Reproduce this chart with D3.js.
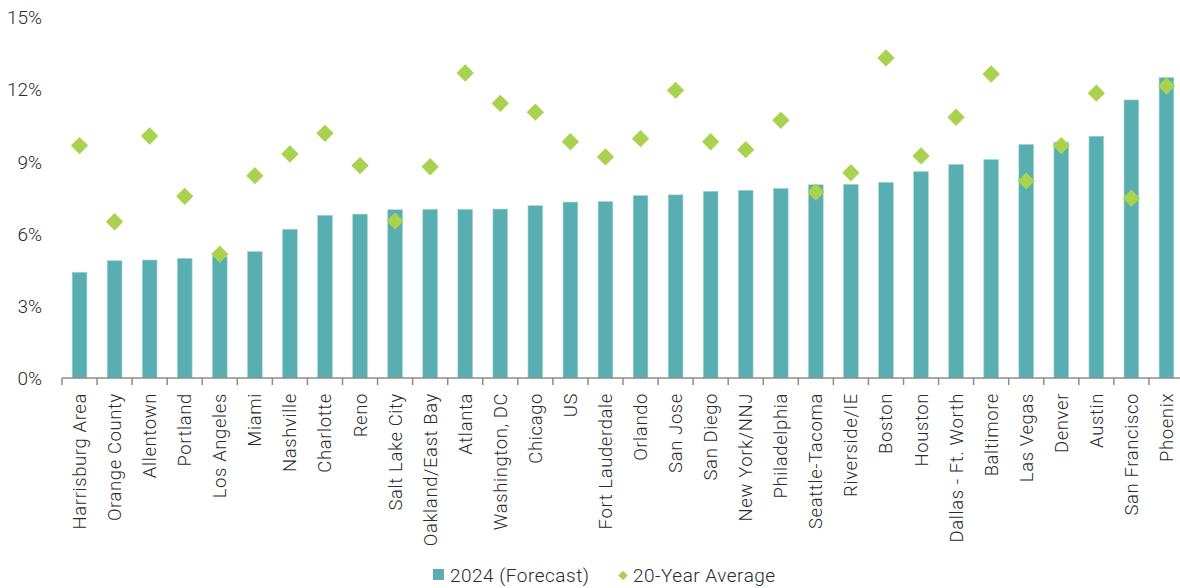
<!DOCTYPE html>
<html>
<head>
<meta charset="utf-8">
<script src="https://cdn.jsdelivr.net/npm/d3@7"></script>
<style>
  body { margin: 0; background: #fff; }
  svg text { font-family: Roboto, "Liberation Sans", Arial, sans-serif; font-weight: 300; fill: #2b2b2b; }
</style>
</head>
<body>
<div id="chart"></div>
<script>
const cities = ["Harrisburg Area", "Orange County", "Allentown", "Portland", "Los Angeles", "Miami",
  "Nashville", "Charlotte", "Reno", "Salt Lake City", "Oakland/East Bay", "Atlanta", "Washington, DC",
  "Chicago", "US", "Fort Lauderdale", "Orlando", "San Jose", "San Diego", "New York/NNJ", "Philadelphia",
  "Seattle-Tacoma", "Riverside/IE", "Boston", "Houston", "Dallas - Ft. Worth", "Baltimore", "Las Vegas",
  "Denver", "Austin", "San Francisco", "Phoenix"];

const forecast2024 = [4.40, 4.88, 4.91, 4.98, 5.05, 5.26, 6.19, 6.77, 6.82, 7.00, 7.02, 7.02, 7.03,
  7.17, 7.32, 7.34, 7.59, 7.62, 7.77, 7.81, 7.89, 8.04, 8.06, 8.14, 8.59, 8.89, 9.09, 9.72,
  9.81, 10.06, 11.57, 12.50];

const avg20yr = [9.67, 6.50, 10.07, 7.56, 5.15, 8.42, 9.32, 10.18, 8.84, 6.53, 8.79, 12.69, 11.43,
  11.06, 9.83, 9.20, 9.96, 11.97, 9.83, 9.50, 10.72, 7.74, 8.54, 13.32, 9.24, 10.85, 12.65, 8.20,
  9.67, 11.85, 7.48, 12.15];

const yTicks = [0, 3, 6, 9, 12, 15];

const width = 1180, height = 588;
const barColor = "#58aeb0", dotColor = "#a9d34f";

const svg = d3.select("#chart").append("svg")
  .attr("width", width)
  .attr("height", height);

const x = d3.scaleBand()
  .domain(cities)
  .range([62, 1184])
  .paddingInner(0.58)
  .paddingOuter(0.29);

const y = d3.scaleLinear()
  .domain([0, 15])
  .range([378, 17.5]);

// y labels (no axis line)
svg.append("g")
  .selectAll("text")
  .data(yTicks)
  .enter()
  .append("text")
  .attr("x", 42)
  .attr("y", d => y(d))
  .attr("dy", "0.36em")
  .attr("text-anchor", "end")
  .style("font-size", "19px")
  .text(d => d + "%");

// bars
svg.append("g")
  .selectAll("rect")
  .data(cities)
  .enter()
  .append("rect")
  .attr("x", d => x(d))
  .attr("y", (d, i) => y(forecast2024[i]))
  .attr("width", x.bandwidth())
  .attr("height", (d, i) => y(0) - y(forecast2024[i]))
  .attr("fill", barColor)
  .attr("stroke", "#a6d6d6")
  .attr("stroke-width", 0.6);

// x axis
const step = x.step();
const xAxis = svg.append("g").attr("class", "x axis");
xAxis.append("line")
  .attr("x1", 62).attr("x2", 1184)
  .attr("y1", y(0)).attr("y2", y(0))
  .attr("stroke", "#8c8c8c").attr("stroke-width", 1.5);

xAxis.selectAll("line.tick")
  .data(d3.range(cities.length + 1))
  .enter()
  .append("line")
  .attr("class", "tick")
  .attr("x1", i => 62 + i * step)
  .attr("x2", i => 62 + i * step)
  .attr("y1", y(0))
  .attr("y2", y(0) + 7)
  .attr("stroke", "#8c8c8c")
  .attr("stroke-width", 1.5);

xAxis.selectAll("text")
  .data(cities)
  .enter()
  .append("text")
  .attr("transform", d => "translate(" + (x(d) + x.bandwidth() / 2 + 6.5) + "," + 393 + ") rotate(-90)")
  .attr("text-anchor", "end")
  .style("font-size", "18.5px")
  .style("letter-spacing", "0.6px")
  .text(d => d);

// 20-year average diamonds
const diamond = d3.symbol().type(d3.symbolSquare).size(150);
svg.append("g")
  .selectAll("path")
  .data(cities)
  .enter()
  .append("path")
  .attr("d", diamond)
  .attr("transform", (d, i) => "translate(" + (x(d) + x.bandwidth() / 2) + "," + y(avg20yr[i]) + ") rotate(45)")
  .attr("fill", dotColor);

// legend
const legend = svg.append("g");
legend.append("rect")
  .attr("x", 433).attr("y", 569)
  .attr("width", 11).attr("height", 11)
  .attr("fill", barColor);
legend.append("text")
  .attr("x", 450).attr("y", 582)
  .style("font-size", "19px")
  .style("letter-spacing", "0.5px")
  .text("2024 (Forecast)");
legend.append("path")
  .attr("d", d3.symbol().type(d3.symbolSquare).size(45))
  .attr("transform", "translate(623,575.5) rotate(45)")
  .attr("fill", dotColor);
legend.append("text")
  .attr("x", 633).attr("y", 582)
  .style("font-size", "19px")
  .style("letter-spacing", "0.5px")
  .text("20-Year Average");
</script>
</body>
</html>
